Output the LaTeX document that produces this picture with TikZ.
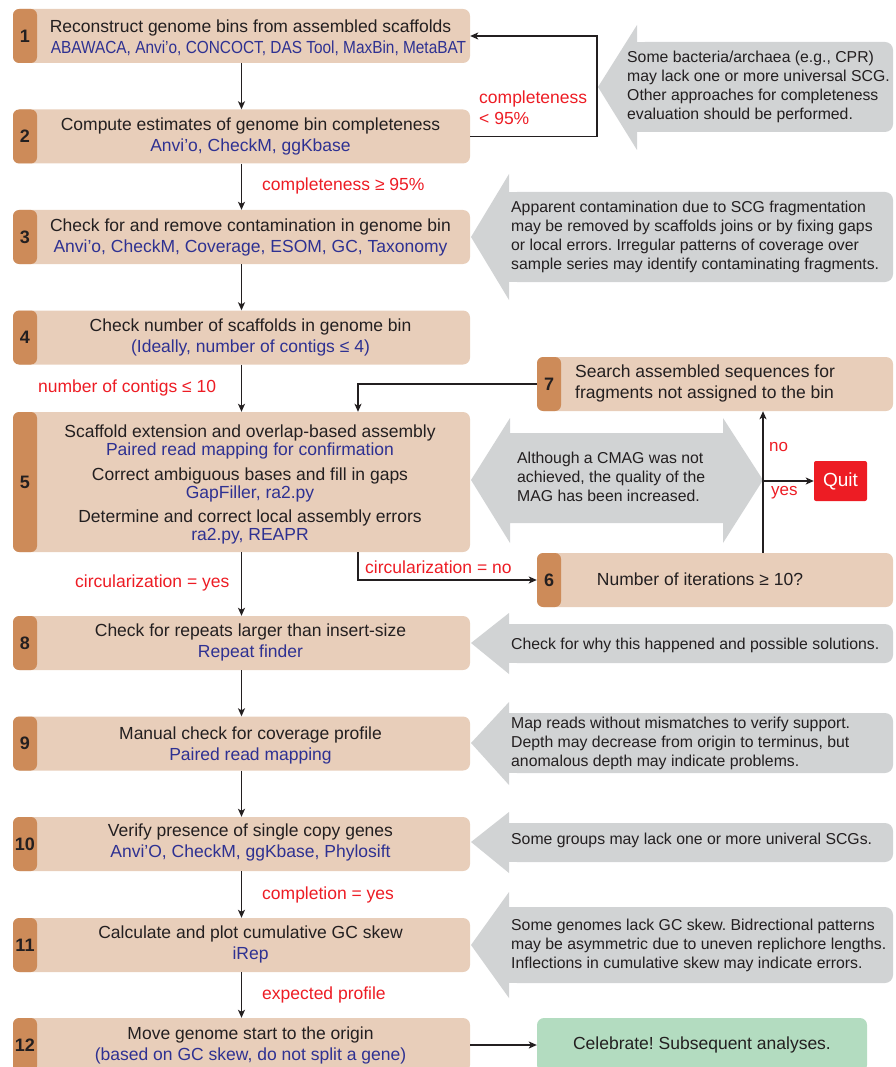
\documentclass[tikz,border=0pt]{standalone}
\usepackage{fontspec}
\setmainfont{Liberation Sans}
\usetikzlibrary{arrows.meta,calc}
\definecolor{peach}{HTML}{E8CEBA}
\definecolor{tabc}{HTML}{CD8B59}
\definecolor{callg}{HTML}{D1D3D4}
\definecolor{toolblue}{HTML}{2E3192}
\definecolor{lblred}{HTML}{ED1C24}
\definecolor{ink}{HTML}{231F20}
\definecolor{celeb}{HTML}{B3DCC0}
\tikzset{
 box/.style={fill=peach, rounded corners=7pt, inner sep=0pt, minimum width=457pt, minimum height=54pt},
 tabbox/.style={fill=tabc, rounded corners=6pt, inner sep=0pt, minimum width=24pt, minimum height=54pt, font=\fontsize{18}{20}\selectfont\bfseries, text=ink},
 maintext/.style={align=center, inner sep=0pt, text=ink, font=\fontsize{17.5}{21}\selectfont},
 pairtext/.style={align=center, inner sep=0pt, text=ink, font=\fontsize{17.5}{18}\selectfont},
 calltext/.style={align=left, anchor=west, inner sep=0pt, text=ink, font=\fontsize{15.8}{19}\selectfont},
 lbl/.style={anchor=west, inner sep=0pt, text=lblred, font=\fontsize{17.5}{21}\selectfont},
 arr/.style={draw=ink, line width=1.3pt, -{Stealth[length=8pt,width=7pt,inset=2pt]}},
 callout/.style={fill=callg},
}
\newcommand\tool[1]{\textcolor{toolblue}{#1}}
\newcommand\calloutshape[7]{%
 \fill[callout, rounded corners=8pt] (#3,#6) rectangle (893,#7);
 \fill[callout] (#3-1,#6) rectangle (#3+12,#7);
 \fill[callout] (#1,#2) -- (#3,#4) -- (#3,#5) -- cycle;
}
\frenchspacing
\begin{document}
\begin{tikzpicture}[x=1pt,y=-1pt]
\path[use as bounding box] (0,0) rectangle (895,1067);
\clip (0,0) rectangle (895,1067);

% gray callouts
\calloutshape{598}{87}{637}{25}{150}{42}{132}
\calloutshape{471}{237}{509}{174}{300}{192}{282}
\calloutshape{471}{643}{509}{613}{674}{624}{663}
\calloutshape{471}{743}{509}{702}{785}{713}{773}
\calloutshape{471}{842}{509}{812}{873}{823}{862}
\calloutshape{471}{945}{509}{892}{998}{907}{983}
\fill[callout] (471,480) -- (510,418) -- (510,433) -- (723,433) -- (723,418) -- (763,480) -- (723,543) -- (723,523) -- (510,523) -- (510,543) -- cycle;

\node[calltext] (c1) at (627,86.5) {Some bacteria/archaea (e.g., CPR)\\may lack one or more universal SCG.\\Other approaches for completeness\\evaluation should be performed.};
\node[calltext] (c2) at (511,236.5) {Apparent contamination due to SCG fragmentation\\may be removed by scaffolds joins or by fixing gaps\\or local errors. Irregular patterns of coverage over\\sample series may identify contaminating fragments.};
\node[calltext] (c3) at (517,477) {Although a CMAG was not\\achieved, the quality of the\\MAG has been increased.};
\node[calltext] (c4) at (511,645) {Check for why this happened and possible solutions.};
\node[calltext] (c5) at (511,743) {Map reads without mismatches to verify support.\\Depth may decrease from origin to terminus, but\\anomalous depth may indicate problems.};
\node[calltext] (c6) at (511,840) {Some groups may lack one or more univeral SCGs.};
\node[calltext] (c7) at (511,945) {Some genomes lack GC skew. Bidrectional patterns\\may be asymmetric due to uneven replichore lengths.\\Inflections in cumulative skew may indicate errors.};

% main boxes
\node[box] (b1) at (241.5,36) {};    \node[tabbox] (n1) at (25,36) {1};
\node[box] (b2) at (241.5,136.5) {}; \node[tabbox] (n2) at (25,136.5) {2};
\node[box] (b3) at (241.5,237) {};   \node[tabbox] (n3) at (25,237) {3};
\node[box] (b4) at (241.5,337.5) {}; \node[tabbox] (n4) at (25,337.5) {4};
\node[box, minimum height=140pt] (b5) at (241.5,482) {}; \node[tabbox, minimum height=140pt] (n5) at (25,482) {5};
\node[box] (b8) at (241.5,643) {};   \node[tabbox] (n8) at (25,643) {8};
\node[box] (b9) at (241.5,743.5) {}; \node[tabbox] (n9) at (25,743.5) {9};
\node[box] (b10) at (241.5,844) {};  \node[tabbox] (n10) at (25,844) {10};
\node[box] (b11) at (241.5,945) {};  \node[tabbox] (n11) at (25,945) {11};
\node[box] (b12) at (241.5,1045) {}; \node[tabbox] (n12) at (25,1045) {12};
\node[box, minimum width=356pt] (b6) at (715,580) {}; \node[tabbox] (n6) at (549,580) {6};
\node[box, minimum width=356pt] (b7) at (715,384) {}; \node[tabbox] (n7) at (549,384) {7};
\node[fill=lblred, rounded corners=2pt, minimum width=53pt, minimum height=40pt, inner sep=0pt, text=white, font=\fontsize{19}{21}\selectfont] (quit) at (840.5,481) {Quit};
\node[fill=celeb, rounded corners=7pt, minimum width=330pt, minimum height=54pt, inner sep=0pt, text=ink, font=\fontsize{17.5}{21}\selectfont] (cel) at (702,1045) {Celebrate! Subsequent analyses.};

% box texts
\node[maintext] (t1) at (250.5,37.5) {Reconstruct genome bins from assembled scaffolds\\\tool{\hspace*{16pt}\scalebox{0.88}[1]{ABAWACA, Anvi’o, CONCOCT, DAS Tool, MaxBin, MetaBAT}}};
\node[maintext] (t2) at (250.5,136.5) {Compute estimates of genome bin completeness\\\tool{Anvi’o, CheckM, ggKbase}};
\node[maintext] (t3) at (250.5,237) {Check for and remove contamination in genome bin\\\tool{Anvi’o, CheckM, Coverage, ESOM, GC, Taxonomy}};
\node[maintext] (t4) at (250.5,337) {Check number of scaffolds in genome bin\\\tool{(Ideally, number of contigs ≤ 4)}};
\node[pairtext] (t5a) at (250,441.5) {Scaffold extension and overlap-based assembly\\\tool{Paired read mapping for confirmation}};
\node[pairtext] (t5b) at (250,484.5) {Correct ambiguous bases and fill in gaps\\\tool{GapFiller, ra2.py}};
\node[pairtext] (t5c) at (250,527) {Determine and correct local assembly errors\\\tool{ra2.py, REAPR}};
\node[maintext] (t8) at (250.5,642.5) {Check for repeats larger than insert-size\\\tool{Repeat finder}};
\node[maintext] (t9) at (250.5,745) {Manual check for coverage profile\\\tool{Paired read mapping}};
\node[maintext] (t10) at (250.5,842.5) {Verify presence of single copy genes\\\tool{Anvi’O, CheckM, ggKbase, Phylosift}};
\node[maintext] (t11) at (250.5,944) {Calculate and plot cumulative GC skew\\\tool{iRep}};
\node[maintext] (t12) at (250.5,1045) {Move genome start to the origin\\\tool{(based on GC skew, do not split a gene)}};
\node[maintext] (t6) at (700,579) {Number of iterations ≥ 10?};
\node[maintext, align=left, anchor=west] (t7) at (575,383.5) {Search assembled sequences for\\fragments not assigned to the bin};

% connectors
\coordinate (lp) at (597,36);
\coordinate (sx) at (358,0);
\coordinate (vx) at (763,0);
\coordinate (qj) at (763,481);
\draw[arr] (b1) -- (b2);
\draw[arr] (b2.east) -| (lp) -- (b1.east);
\draw[arr] (b2) -- (b3);
\draw[arr] (b3) -- (b4);
\draw[arr] (b4) -- (b5);
\draw[arr] (b5) -- (b8);
\draw[arr] (b7.west) -| (b5.north -| sx);
\draw[arr] (b5.south -| sx) |- (b6.west);
\draw[arr] (b6.north -| vx) -- (b7.south -| vx);
\draw[arr] (qj) -- (quit.west);
\draw[arr] (b8) -- (b9);
\draw[arr] (b9) -- (b10);
\draw[arr] (b10) -- (b11);
\draw[arr] (b11) -- (b12);
\draw[arr] (b12.east) -- (cel.west);

% labels
\node[lbl] (l1) at (262,186) {completeness ≥ 95\%};
\node[lbl, align=left] (l2) at (479,107.5) {completeness\\< 95\%};
\node[lbl] (l3) at (38,388) {number of contigs ≤ 10};
\node[lbl] (l4) at (75,583) {circularization = yes};
\node[lbl] (l5) at (365,567) {circularization = no};
\node[lbl] (l6) at (262,895) {completion = yes};
\node[lbl] (l7) at (262,995) {expected profile};
\node[lbl, font=\fontsize{17}{20}\selectfont] (l8) at (769,447) {no};
\node[lbl, font=\fontsize{17}{20}\selectfont] (l9) at (771,493) {yes};
\end{tikzpicture}
\end{document}
